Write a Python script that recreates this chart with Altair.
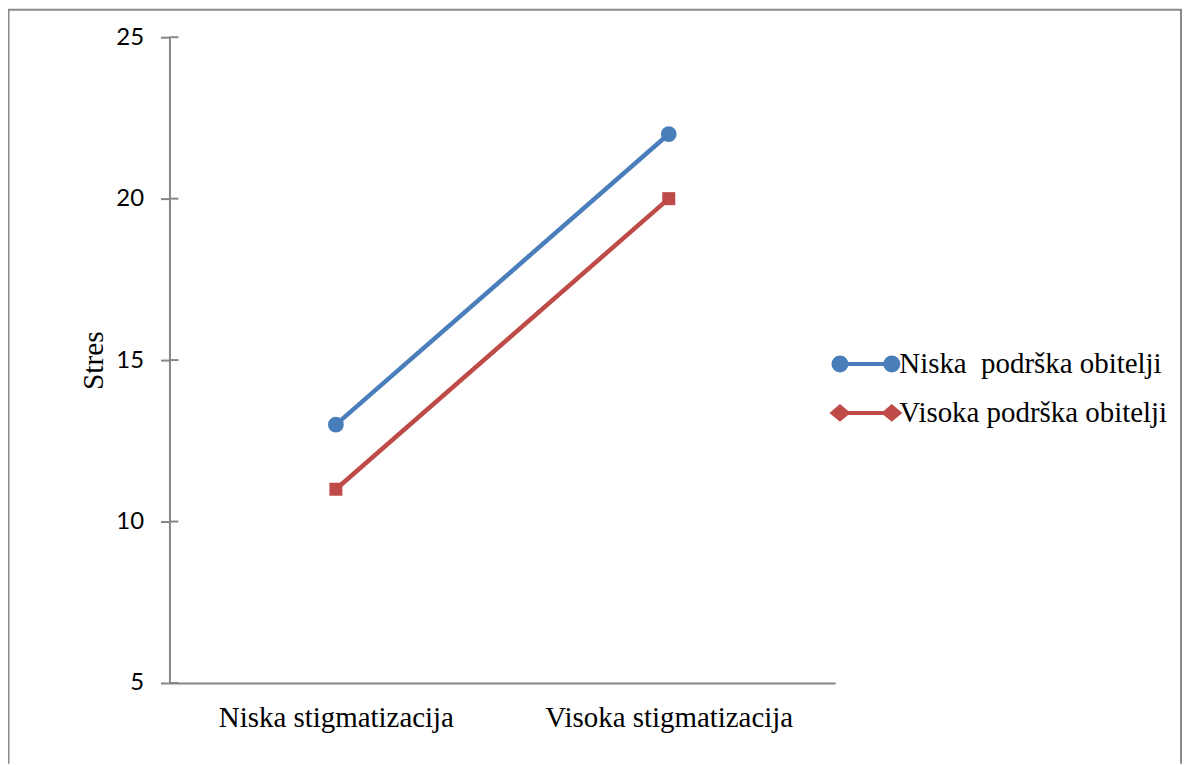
import altair as alt
import pandas as pd

# ---- data ----
categories = ["Niska stigmatizacija", "Visoka stigmatizacija"]
series_names = ["Niska\u00a0 podrška obitelji", "Visoka podrška obitelji"]
niska_podrska = [13, 22]
visoka_podrska = [11, 20]
series_colors = ["#4A7EBB", "#BE4B48"]
y_ticks = [5, 10, 15, 20, 25]

# ---- layout ----
W, H = 668, 648
PAD = {"left": 162, "top": 28, "right": 348, "bottom": 81}
AX = "#868686"
SERIF = "Liberation Serif"

df1 = pd.DataFrame({"cat": categories, "value": niska_podrska, "series": series_names[0]})
df2 = pd.DataFrame({"cat": categories, "value": visoka_podrska, "series": series_names[1]})
df_ticks = pd.DataFrame({"value": y_ticks})

x_enc = alt.X(
    "cat:N", sort=categories,
    scale=alt.Scale(type="point", padding=0.5),
    axis=alt.Axis(title=None, ticks=False, tickSize=0, domainColor=AX, domainWidth=2,
                  labelFont=SERIF, labelFontSize=29, labelColor="black", labelAngle=0,
                  labelBaseline="alphabetic", labelPadding=44, grid=False, labelLimit=400),
)
y_enc = alt.Y(
    "value:Q",
    scale=alt.Scale(domain=[5, 25], nice=False, zero=False),
    axis=alt.Axis(values=y_ticks, title="Stres", grid=False,
                  domainColor=AX, domainWidth=2, tickColor=AX, tickWidth=2, tickSize=9,
                  labelFont="Lato", labelFontSize=24, labelColor="black", labelPadding=17,
                  titleFont=SERIF, titleFontSize=29.5, titleFontWeight="normal", titleColor="black",
                  titleX=-67, titleY=H / 2, titleBaseline="alphabetic", titleAngle=270),
)

R = 31.5  # legend symbol half width in px
cx = 26 / R
rr = 6.5 / R
dx, dy = 7.5 / R, 6.3 / R


def f(v):
    return f"{v:.3f}"


circle_path = (
    f"M{f(-cx)},0L{f(cx)},0"
    f"M{f(-cx - rr)},0A{f(rr)},{f(rr)} 0 1,0 {f(-cx + rr)},0A{f(rr)},{f(rr)} 0 1,0 {f(-cx - rr)},0Z"
    f"M{f(cx - rr)},0A{f(rr)},{f(rr)} 0 1,0 {f(cx + rr)},0A{f(rr)},{f(rr)} 0 1,0 {f(cx - rr)},0Z"
)
diamond_path = (
    f"M{f(-cx)},0L{f(cx)},0"
    f"M{f(-cx - dx)},0L{f(-cx)},{f(-dy)}L{f(-cx + dx)},0L{f(-cx)},{f(dy)}Z"
    f"M{f(cx - dx)},0L{f(cx)},{f(-dy)}L{f(cx + dx)},0L{f(cx)},{f(dy)}Z"
)


def legend(path, color, ly):
    return alt.Legend(title=None, orient="none", legendX=665.3, legendY=ly,
                      symbolType=path, symbolSize=(2 * R) ** 2, symbolStrokeWidth=4,
                      symbolFillColor=color, symbolStrokeColor=color,
                      labelFont=SERIF, labelFontSize=29, labelColor="black",
                      labelOffset=0, labelLimit=500, padding=0)


def series_layer(df, color, shape, size, path, ly, name):
    line = alt.Chart(df).mark_line(strokeWidth=4.5, color=color).encode(x=x_enc, y=y_enc)
    pts = alt.Chart(df).mark_point(filled=True, opacity=1, shape=shape, size=size).encode(
        x=x_enc, y=y_enc,
        color=alt.Color("series:N", scale=alt.Scale(domain=[name], range=[color]),
                        legend=legend(path, color, ly)),
    )
    return line + pts


s1 = series_layer(df1, series_colors[0], "circle", 250, circle_path, 294.5, series_names[0])
s2 = series_layer(df2, series_colors[1], "square", 170, diamond_path, 343.5, series_names[1])

inner_ticks = alt.Chart(df_ticks).mark_rule(color=AX, strokeWidth=2).encode(
    y=y_enc, x=alt.value(0), x2=alt.value(9)
)

one = pd.DataFrame({"k": [0]})
frame_left = alt.Chart(one).mark_rule(color="#8a8a8a", strokeWidth=2).encode(
    x=alt.value(-161.5), y=alt.value(-28), y2=alt.value(729))
frame_top = alt.Chart(one).mark_rule(color="#8a8a8a", strokeWidth=2).encode(
    x=alt.value(-162), x2=alt.value(1016), y=alt.value(-27.5))
frame_right = alt.Chart(one).mark_rule(color="#8a8a8a", strokeWidth=2).encode(
    x=alt.value(1015), y=alt.value(-28), y2=alt.value(729))

chart = (
    alt.layer(inner_ticks, s1, s2, frame_left, frame_top, frame_right)
    .resolve_scale(color="independent")
    .resolve_legend(color="independent")
    .properties(width=W, height=H, padding=PAD, autosize=alt.AutoSizeParams(type="none"),
                background="white")
    .configure_view(stroke=None)
)

chart.save("out.html", embed_options={"renderer": "svg", "actions": False})
